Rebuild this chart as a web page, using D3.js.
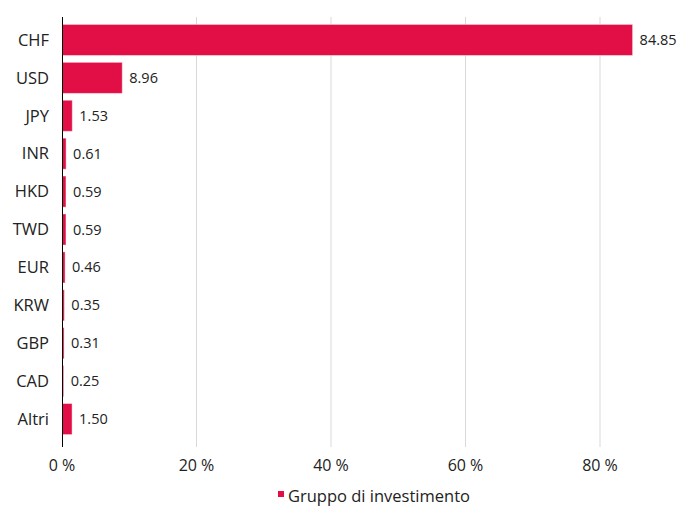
<!DOCTYPE html>
<html><head><meta charset="utf-8">
<script src="https://cdn.jsdelivr.net/npm/d3@7"></script>
<style>body{margin:0;background:#fff;}svg{display:block;font-family:"Open Sans","Noto Sans",sans-serif;}</style>
</head><body>
<svg id="c" width="680" height="506"></svg>
<script>
const categories = ["CHF","USD","JPY","INR","HKD","TWD","EUR","KRW","GBP","CAD","Altri"];
const values = [84.85,8.96,1.53,0.61,0.59,0.59,0.46,0.35,0.31,0.25,1.50];
const ticks = [0,20,40,60,80];
const seriesName = "Gruppo di investimento";
const color = "#e20f47";

const svg = d3.select("#c");
const x = d3.scaleLinear().domain([0,80]).range([62,600]);
const y = d3.scaleBand().domain(categories).range([21,438]).paddingInner(0.18).paddingOuter(0.09);

svg.append("g").selectAll("line").data(ticks.slice(1)).join("line")
  .attr("x1",d=>x(d)).attr("x2",d=>x(d)).attr("y1",17).attr("y2",447)
  .attr("stroke","#d9d9d9").attr("stroke-width",1);

svg.append("g").selectAll("rect").data(values).join("rect")
  .attr("x",x(0)).attr("y",(d,i)=>y(categories[i]))
  .attr("width",d=>x(d)-x(0)).attr("height",y.bandwidth())
  .attr("fill",color).attr("stroke","rgba(255,255,255,0.45)").attr("stroke-width",1);

svg.append("line").attr("x1",62.5).attr("x2",62.5).attr("y1",17).attr("y2",447)
  .attr("stroke","#000").attr("stroke-width",1);

svg.append("g").selectAll("text").data(categories).join("text")
  .attr("x",49).attr("y",d=>y(d)+y.bandwidth()/2).attr("dy","0.35em")
  .attr("text-anchor","end").attr("font-size",16.5).attr("fill","#222").text(d=>d);

svg.append("g").selectAll("text").data(values).join("text")
  .attr("x",d=>x(d)+7).attr("y",(d,i)=>y(categories[i])+y.bandwidth()/2).attr("dy","0.35em")
  .attr("font-size",14.5).attr("fill","#222").text(d=>d.toFixed(2));

svg.append("g").selectAll("text").data(ticks).join("text")
  .attr("x",d=>x(d)).attr("y",465).attr("dy","0.35em").attr("text-anchor","middle")
  .attr("font-size",16).attr("fill","#222").text(d=>d+" %");

const lg = svg.append("g");
lg.append("rect").attr("x",278).attr("y",491).attr("width",6).attr("height",6).attr("fill",color);
lg.append("text").attr("x",288).attr("y",496).attr("dy","0.35em").attr("font-size",16.5).attr("fill","#222").text(seriesName);
</script>
</body></html>
